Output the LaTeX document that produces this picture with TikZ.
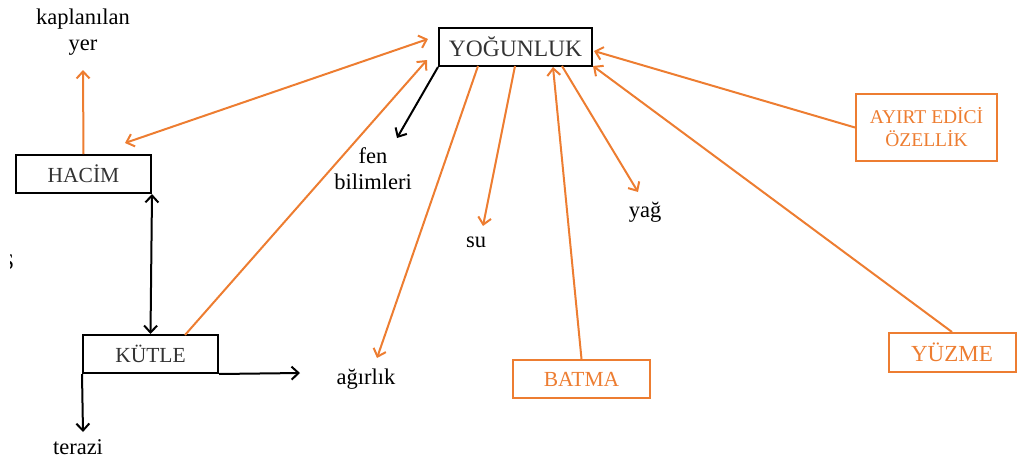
\documentclass[tikz,border=0pt]{standalone}
\usepackage{fontspec}
\setmainfont{Liberation Serif}
\usetikzlibrary{arrows.meta,calc}
\definecolor{accent}{HTML}{ED7D31}
\definecolor{boxtext}{HTML}{333333}
\tikzset{
  concept/.style={draw=black, line width=2pt, inner sep=0pt, text=boxtext,
    font=\fontsize{21.5}{24}\selectfont},
  keybox/.style={draw=accent, line width=2pt, inner sep=0pt, text=accent,
    font=\fontsize{21.5}{24}\selectfont, align=center},
  word/.style={inner sep=0pt, align=center, font=\fontsize{22.5}{26}\selectfont},
  link/.style={line width=2pt, -{Straight Barb[length=7pt,width=13pt,line width=2pt]}},
  dlink/.style={line width=2pt, {Straight Barb[length=7pt,width=13pt,line width=2pt]}-{Straight Barb[length=7pt,width=13pt,line width=2pt]}},
  orange/.style={draw=accent},
}
\begin{document}
\begin{tikzpicture}[x=1pt,y=-1pt]
\useasboundingbox (0,0) rectangle (1017,466);

% concept boxes
\node[concept, minimum width=153pt, minimum height=38pt, font=\fontsize{23.5}{26}\selectfont] (yog) at (515.5,47) {YOĞUNLUK};
\node[concept, minimum width=135pt, minimum height=38pt] (hacim) at (83.5,174) {HACİM};
\node[concept, minimum width=135pt, minimum height=38pt] (kutle) at (150.5,354) {KÜTLE};
\node[keybox, minimum width=137pt, minimum height=38pt] (batma) at (581.5,379) {BATMA};
\node[keybox, minimum width=127pt, minimum height=39pt, font=\fontsize{23}{26}\selectfont] (yuzme) at (952,352.5) {YÜZME};
\node[keybox, minimum width=141pt, minimum height=67pt, font=\fontsize{19.5}{23}\selectfont] (ayirt) at (926.5,127.5) {AYIRT EDİCİ\\ÖZELLİK};

% plain labels
\node[word] (kap) at (83,32) {kaplanılan\\yer};
\node[word] (fen) at (373,169) {fen\\bilimleri};
\node[word] (su) at (476,242) {su};
\node[word] (yag) at (645,212) {yağ};
\node[word] (agir) at (366,379) {ağırlık};
\node[word] (ter) at (78,447) {terazi};

% partly hidden letter at the left margin
\begin{scope}
  \clip (10,245) rectangle (17,280);
  \node[word] (sfrag) at (8,262) {S};
\end{scope}

% arrow end points
\coordinate (kapT) at (83,70);
\coordinate (hacT) at (125,143);
\coordinate (yogL1) at (428,39);
\coordinate (yogL2) at (427,60);
\coordinate (kutT) at (185,335);
\coordinate (terT) at (83,432);
\coordinate (agirT) at (300,373);
\coordinate (fenT) at (397,138);
\coordinate (yogB1) at (478,66);
\coordinate (agirT2) at (377,358);
\coordinate (yogB2) at (515,66);
\coordinate (suT) at (483,226);
\coordinate (yogB3) at (553,67);
\coordinate (yogB4) at (562,66);
\coordinate (yagT) at (638,192);
\coordinate (yogR1) at (594,51);
\coordinate (yogR2) at (593,66);

% black connectors
\draw[dlink] (hacim.south east) -- (kutle.north);
\draw[link] (kutle.south west) -- (terT);
\draw[link] (kutle.south east) -- (agirT);
\draw[link] (yog.south west) -- (fenT);

% orange connectors
\draw[link, orange] (hacim.north) -- (kapT);
\draw[dlink, orange] (hacT) -- (yogL1);
\draw[link, orange] (kutT) -- (yogL2);
\draw[link, orange] (yogB1) -- (agirT2);
\draw[link, orange] (yogB2) -- (suT);
\draw[link, orange] (batma.north) -- (yogB3);
\draw[link, orange] (yogB4) -- (yagT);
\draw[link, orange] (ayirt.west) -- (yogR1);
\draw[link, orange] (yuzme.north) -- (yogR2);
\end{tikzpicture}
\end{document}
